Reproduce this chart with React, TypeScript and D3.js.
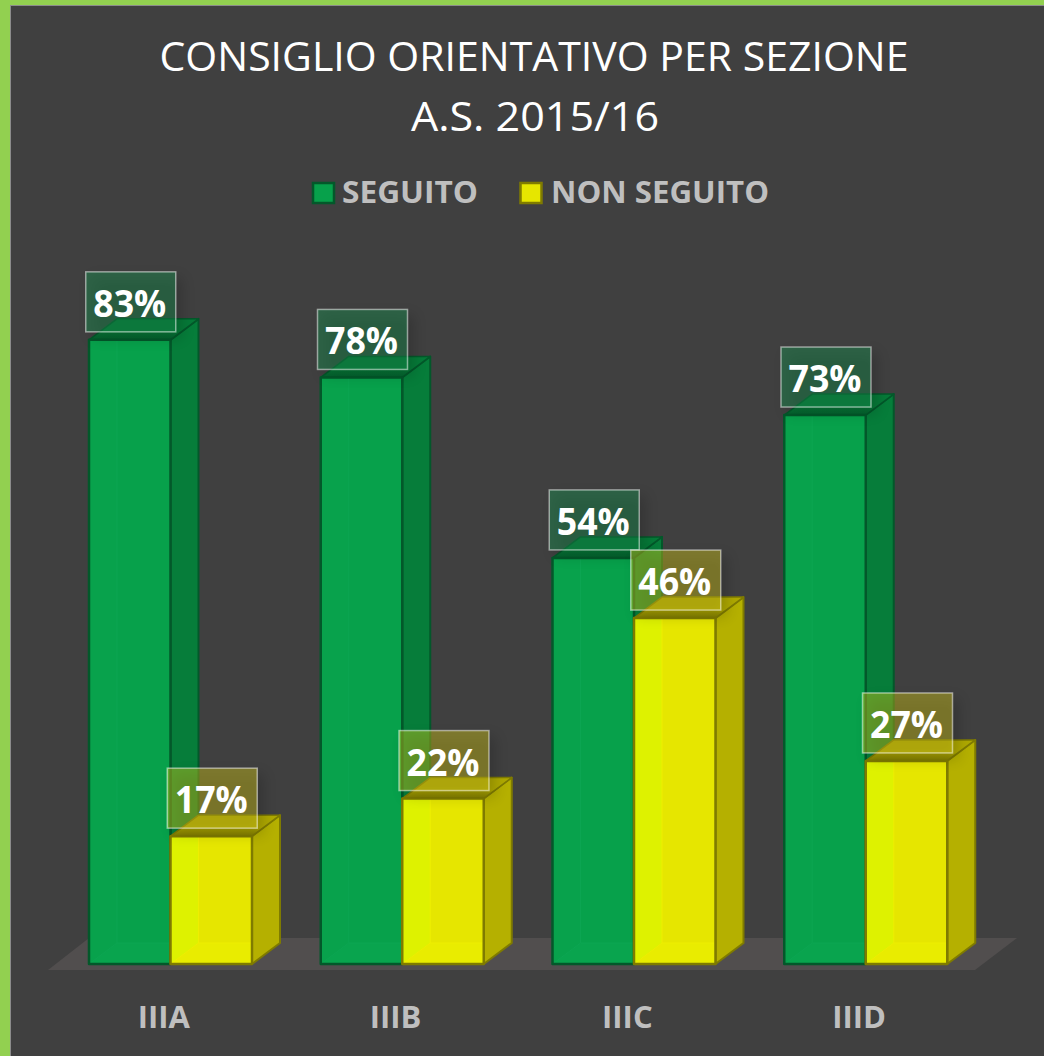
import React from "react";
import * as d3 from "d3";

const categories = ["IIIA", "IIIB", "IIIC", "IIID"];
const seriesNames = ["SEGUITO", "NON SEGUITO"];
const seguito = [83, 78, 54, 73];
const nonSeguito = [17, 22, 46, 27];
const titleLines = ["CONSIGLIO ORIENTATIVO PER SEZIONE", "A.S. 2015/16"];

const W = 1044, H = 1056;
const FONT = "'Open Sans', sans-serif";
const dx = 28, dy = 21;
const x0 = d3.scaleBand<string>().domain(categories).range([48, 975]);
const x1 = d3.scaleBand<string>().domain(seriesNames).range([41, 204]);
const y = d3.scaleLinear().domain([0, 100]).range([964, 212]);
const base = y(0);

const palette: Record<string, any> = {
  SEGUITO: { front: "#07A14B", wall: "#08A24C", floor: "#09A44E", side: "#067D3A", topBack: "#067A38", topFront: "#045F2D", stroke: "#03582A", label: "#189451", line: "#0CA552" },
  "NON SEGUITO": { front: "#E6E600", wall: "#DEF200", floor: "#E9EC00", side: "#B5B000", topBack: "#AFA900", topFront: "#7D7900", stroke: "#7F7B00", label: "#D6CA1A", line: "#EEEE00" },
};
const pts = (p: number[][]) => p.map((a) => a.join(",")).join(" ");

function Bar({ cat, name, value }: { cat: string; name: string; value: number }) {
  const c = palette[name];
  const l = x0(cat)! + x1(name)!;
  const w = x1.bandwidth();
  const t = y(value);
  const r = l + w;
  const gid = name === "SEGUITO" ? "topG" : "topY";
  return (
    <g strokeLinejoin="round">
      <polygon points={pts([[r, t], [r + dx, t - dy], [r + dx, base - dy], [r, base]])} fill={c.side} stroke={c.stroke} strokeWidth={2} />
      <polygon points={pts([[l, t], [l + dx, t - dy], [r + dx, t - dy], [r, t]])} fill={`url(#${gid})`} stroke={c.stroke} strokeWidth={1.5} />
      <rect x={l} y={t} width={w} height={base - t} fill={c.front} />
      <rect x={l} y={t} width={dx} height={base - t} fill={c.wall} />
      <polygon points={pts([[l, base], [l + dx, base - dy], [r, base - dy], [r, base]])} fill={c.floor} />
      <path d={`M${l + dx},${t} V${base - dy} H${r} M${l + dx},${base - dy} L${l},${base}`} fill="none" stroke={c.line} strokeWidth={1} />
      <rect x={l} y={t} width={w} height={base - t} fill="none" stroke={c.stroke} strokeWidth={2.5} />
    </g>
  );
}

function Label({ cat, name, value }: { cat: string; name: string; value: number }) {
  const c = palette[name];
  const cx = x0(cat)! + x1(name)! + x1.bandwidth() / 2 + 1;
  const t = y(value);
  const bw = 90, bh = 60;
  const top = t - 8 - bh;
  return (
    <g>
      <rect x={cx - bw / 2 + 6} y={top + 6} width={bw} height={bh} fill="#000" opacity={0.18} filter="url(#soft)" />
      <rect x={cx - bw / 2} y={top} width={bw} height={bh} fill={c.label} fillOpacity={0.42} stroke="#FFFFFF" strokeOpacity={0.5} strokeWidth={1.5} />
      <text x={cx - 1} y={top + 45} textAnchor="middle" fontFamily={FONT} fontWeight={700} fontSize={37} fill="#FFFFFF" textLength={73} lengthAdjust="spacingAndGlyphs">{value}%</text>
    </g>
  );
}

export default function App() {
  return (
    <svg width={W} height={H} viewBox={`0 0 ${W} ${H}`} style={{ position: "absolute", left: 0, top: 0, display: "block" }}>
      <defs>
        <linearGradient id="topG" x1="0" y1="0" x2="0" y2="1">
          <stop offset="0" stopColor={palette.SEGUITO.topBack} />
          <stop offset="0.6" stopColor={palette.SEGUITO.topBack} />
          <stop offset="1" stopColor={palette.SEGUITO.topFront} />
        </linearGradient>
        <linearGradient id="topY" x1="0" y1="0" x2="0" y2="1">
          <stop offset="0" stopColor={palette["NON SEGUITO"].topBack} />
          <stop offset="0.6" stopColor={palette["NON SEGUITO"].topBack} />
          <stop offset="1" stopColor={palette["NON SEGUITO"].topFront} />
        </linearGradient>
        <filter id="soft" x="-30%" y="-30%" width="160%" height="160%">
          <feGaussianBlur stdDeviation="7" />
        </filter>
      </defs>
      <rect width={W} height={H} fill="#92D050" />
      <rect x={10.5} y={5.5} width={W} height={H} fill="#404040" stroke="#8C8C8C" strokeWidth={1} />

      <text x={534} y={71} textAnchor="middle" fontFamily={FONT} fontSize={41} fill="#FFFFFF" textLength={749} lengthAdjust="spacingAndGlyphs">{titleLines[0]}</text>
      <text x={535} y={131} textAnchor="middle" fontFamily={FONT} fontSize={41} fill="#FFFFFF" textLength={248} lengthAdjust="spacingAndGlyphs">{titleLines[1]}</text>

      <g>
        <rect x={313} y={183} width={21} height={20} fill={palette.SEGUITO.front} stroke={palette.SEGUITO.stroke} strokeWidth={2.5} />
        <text x={342} y={203} fontFamily={FONT} fontWeight={700} fontSize={31} fill="#BFBFBF" textLength={136} lengthAdjust="spacingAndGlyphs">{seriesNames[0]}</text>
        <rect x={520.5} y={183} width={21} height={20} fill={palette["NON SEGUITO"].front} stroke={palette["NON SEGUITO"].stroke} strokeWidth={2.5} />
        <text x={551} y={203} fontFamily={FONT} fontWeight={700} fontSize={31} fill="#BFBFBF" textLength={218} lengthAdjust="spacingAndGlyphs">{seriesNames[1]}</text>
      </g>

      <polygon points={pts([[x0.range()[0], 970], [x0.range()[1], 970], [1017, 938], [89, 938]])} fill="#514E4E" />

      {categories.map((cat, i) => (
        <g key={cat}>
          <Bar cat={cat} name={seriesNames[0]} value={seguito[i]} />
          <Bar cat={cat} name={seriesNames[1]} value={nonSeguito[i]} />
        </g>
      ))}
      {categories.map((cat, i) => (
        <g key={cat}>
          <Label cat={cat} name={seriesNames[0]} value={seguito[i]} />
          <Label cat={cat} name={seriesNames[1]} value={nonSeguito[i]} />
        </g>
      ))}
      {categories.map((cat) => (
        <text key={cat} x={x0(cat)! + x0.bandwidth() / 2} y={1028} textAnchor="middle" fontFamily={FONT} fontWeight={700} fontSize={31} fill="#BFBFBF">{cat}</text>
      ))}
    </svg>
  );
}
